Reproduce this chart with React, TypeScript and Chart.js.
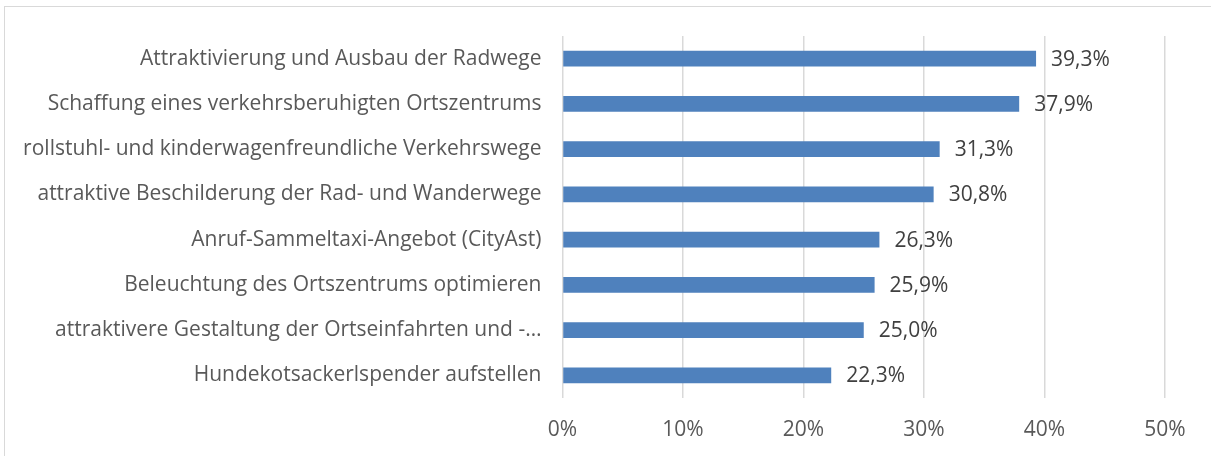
import React, { useEffect, useRef } from "react";
import { Chart, registerables } from "chart.js";

Chart.register(...registerables);

const categories = [
  "Attraktivierung und Ausbau der Radwege",
  "Schaffung eines verkehrsberuhigten Ortszentrums",
  "rollstuhl- und kinderwagenfreundliche Verkehrswege",
  "attraktive Beschilderung der Rad- und Wanderwege",
  "Anruf-Sammeltaxi-Angebot (CityAst)",
  "Beleuchtung des Ortszentrums optimieren",
  "attraktivere Gestaltung der Ortseinfahrten und -…",
  "Hundekotsackerlspender aufstellen",
];
const values = [39.3, 37.9, 31.3, 30.8, 26.3, 25.9, 25.0, 22.3];
const xMin = 0;
const xMax = 50;
const xStep = 10;

const FONT = "'Open Sans', sans-serif";
const TEXT = "#595959";
const SIZE = 21;

const dataLabelPlugin = {
  id: "dataLabels",
  afterDatasetsDraw(chart: any) {
    const ctx = chart.ctx;
    const meta = chart.getDatasetMeta(0);
    ctx.save();
    ctx.font = `${SIZE}px ${FONT}`;
    ctx.fillStyle = "#404040";
    ctx.textAlign = "left";
    ctx.textBaseline = "middle";
    meta.data.forEach((bar: any, i: number) => {
      const txt = values[i].toFixed(1).replace(".", ",") + "%";
      ctx.fillText(txt, bar.x + 15, bar.y + 1);
    });
    ctx.restore();
  },
};

export default function App() {
  const ref = useRef<HTMLCanvasElement>(null);
  useEffect(() => {
    document.body.style.margin = "0";
    const chart = new Chart(ref.current!, {
      type: "bar",
      data: {
        labels: categories,
        datasets: [
          {
            data: values,
            backgroundColor: "#4f81bd",
            categoryPercentage: 1,
            barPercentage: 0.345,
          },
        ],
      },
      plugins: [dataLabelPlugin],
      options: {
        indexAxis: "y",
        animation: false,
        responsive: false,
        maintainAspectRatio: false,
        layout: { padding: { left: 0, right: 46, top: 36, bottom: 0 } },
        plugins: { legend: { display: false }, tooltip: { enabled: false } },
        scales: {
          x: {
            min: xMin,
            max: xMax,
            border: { display: false },
            grid: { color: "#d9d9d9", lineWidth: 1.5, drawTicks: false },
            ticks: {
              stepSize: xStep,
              padding: 19,
              color: TEXT,
              font: { family: FONT, size: SIZE },
              callback: (v: any) => v + "%",
            },
            afterFit: (s: any) => {
              s.height = 58;
            },
          },
          y: {
            border: { display: false },
            grid: { display: false, drawTicks: false },
            ticks: {
              padding: 21,
              color: TEXT,
              font: { family: FONT, size: SIZE },
              autoSkip: false,
            },
            afterFit: (s: any) => {
              s.width = 562.5;
            },
          },
        },
      },
    });
    return () => chart.destroy();
  }, []);
  return (
    <div
      style={{
        position: "relative",
        width: 1211,
        height: 456,
        overflow: "hidden",
        background: "#fff",
      }}
    >
      <div
        style={{
          position: "absolute",
          left: 4,
          top: 6,
          width: 1400,
          height: 700,
          border: "1.5px solid #d9d9d9",
        }}
      />
      <canvas
        ref={ref}
        width={1211}
        height={456}
        style={{ position: "absolute", left: 0, top: 0 }}
      />
    </div>
  );
}
